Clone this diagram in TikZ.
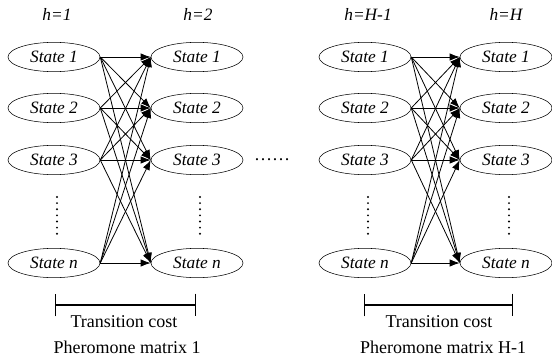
\documentclass[tikz,border=0pt]{standalone}
\usepackage{fontspec}
\setmainfont{Liberation Serif}
\usetikzlibrary{arrows.meta,shapes.geometric}
\begin{document}
\begin{tikzpicture}[x=0.75pt,y=-0.75pt,
state/.style={draw,ellipse,minimum width=69pt,minimum height=22pt,inner sep=0pt,font=\fontsize{13}{15}\selectfont\itshape},
level/.style={font=\fontsize{13}{15}\selectfont\itshape},
caption/.style={font=\fontsize{13.5}{16}\selectfont},
trans/.style={-{Latex[length=7.5pt,width=5.5pt]},line width=0.6pt},
vdots/.style={line width=1.6pt,line cap=round,dash pattern=on 0pt off 4.6pt},
span/.style={{Bar[width=17pt]}-{Bar[width=17pt]},line width=0.8pt},
]
\useasboundingbox(0,0)rectangle(552,360);
%levels
\node[level](ha)at(57,14){h=1};
\node[level](hb)at(198,14){h=2};
\node[level](hc)at(368,14){h=H-1};
\node[level](hd)at(506,14){h=H};

%states
\foreach \c/\x in {a/54,b/197,c/365,d/506}{
\node[state](\c 1)at(\x,57){State 1};
\node[state](\c 2)at(\x,108){State 2};
\node[state](\c 3)at(\x,160){State 3};
\node[state](\c n)at(\x,263){State n};
\draw[vdots](\x+3,197)--(\x+3,235);
}

%transitions
\foreach \f/\t in {a/b,c/d}
\foreach \i in {1,2,3,n}
\foreach \j in {1,2,3,n}
\draw[trans](\f\i.east)--(\t\j.west);

\node[caption](gap)at(272,160){……};

%pheromone matrices
\coordinate(la)at(55,305);
\coordinate(lb)at(196,305);
\draw[span](la)--(lb);
\node[caption](ta)at(124,322){Transition cost};
\node[caption](pa)at(127,347){Pheromone matrix 1};

\coordinate(lc)at(364,305);
\coordinate(ld)at(513,305);
\draw[span](lc)--(ld);
\node[caption](tc)at(439,322){Transition cost};
\node[caption](pc)at(443,347){Pheromone matrix H-1};
\end{tikzpicture}
\end{document}
